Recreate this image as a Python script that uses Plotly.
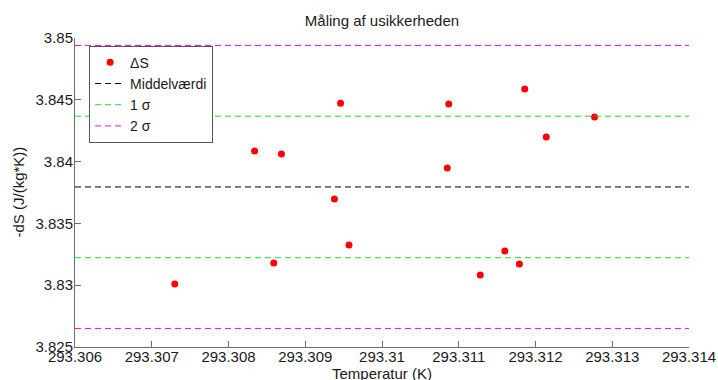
import numpy as np
import plotly.graph_objects as go

# Measured temperatures (K) and entropy change -dS (J/(kg*K))
temperatur = [293.3073, 293.30859, 293.30834, 293.30869, 293.30938, 293.30957,
              293.30946, 293.31087, 293.31085, 293.31186, 293.31214, 293.31277,
              293.31160, 293.31179, 293.31128]
delta_s = [3.8301, 3.8318, 3.84086, 3.84061, 3.83697, 3.83325,
           3.84472, 3.84466, 3.83948, 3.84587, 3.84199, 3.84361,
           3.83277, 3.83172, 3.83083]

x_ticks = [293.306, 293.307, 293.308, 293.309, 293.310, 293.311, 293.312, 293.313, 293.314]
x_labels = ["293.306", "293.307", "293.308", "293.309", "293.31",
            "293.311", "293.312", "293.313", "293.314"]
y_ticks = [3.825, 3.83, 3.835, 3.84, 3.845, 3.85]
y_labels = ["3.825", "3.83", "3.835", "3.84", "3.845", "3.85"]

x_range = [x_ticks[0], x_ticks[-1]]
y_range = [y_ticks[0], y_ticks[-1]]

middel = float(np.mean(delta_s))
sigma = float(np.std(delta_s, ddof=1))

FONT = "Liberation Sans, Arial, sans-serif"
AXIS_COLOR = "#6e6e6e"
DASH = "6px,4px"

fig = go.Figure()

fig.add_trace(go.Scatter(
    x=temperatur, y=delta_s, mode="markers", name="ΔS",
    marker=dict(color="#ff0000", size=7),
))

fig.add_trace(go.Scatter(
    x=x_range, y=[middel, middel], mode="lines", name="Middelværdi",
    line=dict(color="#000000", width=1, dash=DASH),
))

for k, color, name in [(1, "#22dd22", "1 σ"), (2, "#ff00ff", "2 σ")]:
    fig.add_trace(go.Scatter(
        x=x_range + [None] + x_range,
        y=[middel + k * sigma] * 2 + [None] + [middel - k * sigma] * 2,
        mode="lines", name=name, connectgaps=False,
        line=dict(color=color, width=1, dash=DASH),
    ))

fig.update_layout(
    width=718, height=380,
    margin=dict(l=75, r=29, t=38, b=33),
    paper_bgcolor="white", plot_bgcolor="white",
    font=dict(family=FONT, size=15, color="#1a1a1a"),
    title=dict(text="Måling af usikkerheden", x=0.532, xanchor="center",
               y=0.945, yanchor="middle", font=dict(size=15, family=FONT)),
    showlegend=True,
    legend=dict(x=0.023, y=0.975, xanchor="left", yanchor="top",
                bgcolor="white", bordercolor="#555555", borderwidth=1,
                font=dict(size=14, family=FONT), tracegroupgap=0,
                itemwidth=30),
    annotations=[
        dict(text="Temperatur (K)", xref="paper", yref="paper",
             x=0.5, y=0, xanchor="center", yanchor="middle", yshift=-26,
             showarrow=False, font=dict(size=15)),
        dict(text="-dS (J/(kg*K))", xref="paper", yref="paper",
             x=0, y=0.5, xanchor="center", yanchor="middle", xshift=-57,
             textangle=-90, showarrow=False, font=dict(size=15)),
    ],
)

fig.update_xaxes(
    range=x_range, tickmode="array", tickvals=x_ticks, ticktext=x_labels,
    showgrid=False, zeroline=False, showline=True, linecolor=AXIS_COLOR,
    linewidth=1, ticks="inside", ticklen=6, tickcolor=AXIS_COLOR,
    automargin=False, tickfont=dict(size=15), ticklabelstandoff=-4,
    mirror=False,
)
fig.update_yaxes(
    range=y_range, tickmode="array", tickvals=y_ticks, ticktext=y_labels,
    showgrid=False, zeroline=False, showline=True, linecolor=AXIS_COLOR,
    linewidth=1, ticks="inside", ticklen=6, tickcolor=AXIS_COLOR,
    automargin=False, tickfont=dict(size=15), ticklabelstandoff=-2,
    mirror=False,
)

fig.write_html("out.html")
